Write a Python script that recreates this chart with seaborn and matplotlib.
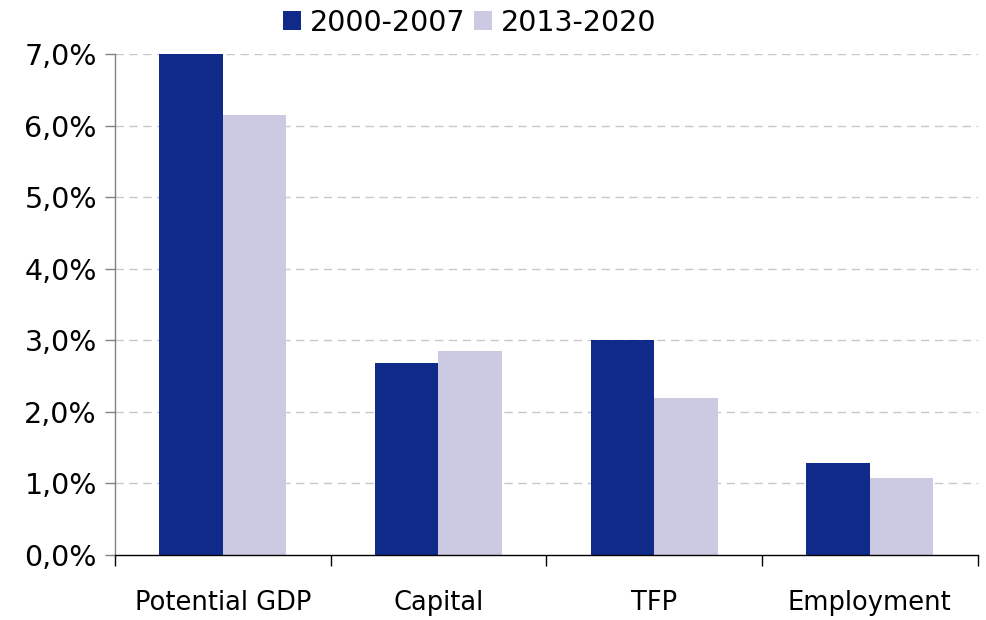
import matplotlib
matplotlib.use("Agg")
import matplotlib.pyplot as plt
from matplotlib.ticker import FuncFormatter, FixedLocator
import seaborn as sns
import pandas as pd

categories = ["Potential GDP", "Capital", "TFP", "Employment"]
periods = ["2000-2007", "2013-2020"]
values_2000_2007 = [7.0, 2.68, 3.0, 1.28]
values_2013_2020 = [6.15, 2.85, 2.19, 1.08]
colors = ["#0F2A88", "#CBCAE2"]

df = pd.DataFrame({
    "category": categories * 2,
    "period": [periods[0]] * 4 + [periods[1]] * 4,
    "value": values_2000_2007 + values_2013_2020,
})

sns.set_style("white")
plt.rcParams["font.family"] = ["DejaVu Sans"]
plt.rcParams["text.color"] = "black"
plt.rcParams["xtick.color"] = "black"
plt.rcParams["ytick.color"] = "black"

fig = plt.figure(figsize=(9.87, 6.2), dpi=100)
ax = fig.add_axes([0.1165, 0.105, 0.874, 0.808])

sns.barplot(data=df, x="category", y="value", hue="period", palette=colors,
            width=0.59, saturation=1, ax=ax, errorbar=None, linewidth=0)

ax.set_ylim(0, 7)
ax.set_xlim(-0.5, 3.5)
ax.set_yticks(range(0, 8))
ax.yaxis.set_major_formatter(FuncFormatter(lambda v, p: f"{v:.1f}%".replace(".", ",")))
ax.set_xlabel("")
ax.set_ylabel("")

for y in range(1, 8):
    ax.axhline(y, color="#C8C8C8", lw=1, ls=(0, (6, 4)), zorder=0)

for s in ["top", "right"]:
    ax.spines[s].set_visible(False)
ax.spines["left"].set_color("#808080")
ax.spines["bottom"].set_color("#000000")
ax.spines["left"].set_linewidth(1)
ax.spines["bottom"].set_linewidth(1)

ax.tick_params(axis="y", which="major", left=True, direction="out", length=7, width=1,
               color="#808080", labelcolor="black", labelsize=20.5, pad=6)
ax.tick_params(axis="x", which="major", length=0, labelcolor="black", labelsize=18.5, pad=25)
ax.xaxis.set_minor_locator(FixedLocator([-0.5, 0.5, 1.5, 2.5, 3.5]))
ax.tick_params(axis="x", which="minor", bottom=True, direction="out", length=8, width=1,
               color="#000000")

ax.legend(loc="lower center", bbox_to_anchor=(0.411, 1.006), ncol=2, frameon=False,
          fontsize=20.5, handlelength=0.65, handleheight=0.65, handletextpad=0.3,
          columnspacing=0.3, borderaxespad=0.1, labelcolor="black")

fig.savefig("out.png", dpi=100)
